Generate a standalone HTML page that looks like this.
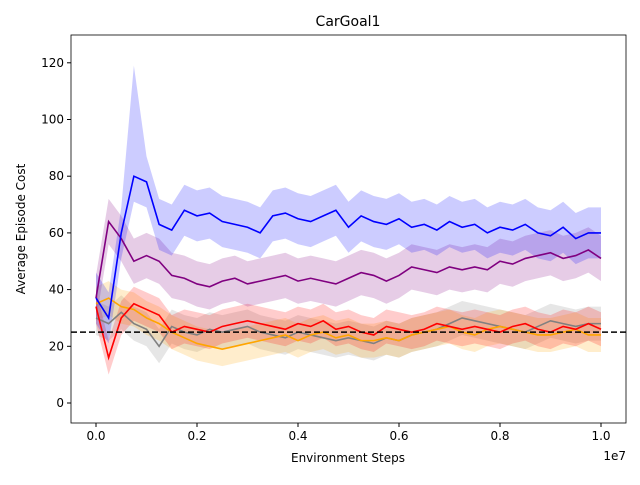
<!DOCTYPE html>
<html><head><meta charset="utf-8"><style>
body{margin:0;background:#fff;font-family:"Liberation Sans","DejaVu Sans",sans-serif}
svg text{font-family:"DejaVu Sans","Liberation Sans",sans-serif;font-size:12px;fill:#000}
</style></head><body>
<svg id="c" width="640" height="480"></svg>
<script>
const xs=[];for(let i=0;i<=40;i++)xs.push(i*0.025);
const blue=[37,30,60,80,78,63,61,68,66,67,64,63,62,60,66,67,65,64,66,68,62,66,64,63,65,62,63,61,64,62,63,60,62,61,63,60,59,62,58,60,60];
const purple=[37,64,58,50,52,50,45,44,42,41,43,44,42,43,44,45,43,44,43,42,44,46,45,43,45,48,47,46,48,47,48,47,50,49,51,52,53,51,52,54,51];
const red=[34,16,30,35,33,31,25,27,26,25,27,28,29,28,27,26,28,27,29,26,27,25,24,27,26,25,26,28,27,26,27,26,25,27,28,26,25,27,26,28,26];
const orange=[35,37,34,33,30,28,25,23,21,20,19,20,21,22,23,24,22,24,25,23,24,22,22,23,22,24,25,26,27,25,24,26,27,26,25,24,24,25,26,24,24];
const gray=[30,28,32,28,26,20,27,25,24,26,25,26,27,25,24,23,25,24,23,22,23,22,21,23,22,24,25,26,28,30,29,28,27,26,25,27,29,28,27,28,28];
const xTicks=[0,0.2,0.4,0.6,0.8,1.0];
const yTicks=[0,20,40,60,80,100,120];
const threshold=25;
const L=71,R=626,T=35,B=423;
const X=v=>96+v*505, Y=v=>403-v*2.835;
const s=document.getElementById('c');const NS='http://www.w3.org/2000/svg';
function mk(t,a,txt){const e=document.createElementNS(NS,t);for(const k in a)e.setAttribute(k,a[k]);if(txt!=null)e.textContent=txt;s.appendChild(e);return e;}
const series=[[gray,'#808080',6],[orange,'#ffa500',6],[red,'#ff0000',6],[purple,'#800080',8],[blue,'#0000ff',9]];
const names=['gray','orange','red','purple','blue'];
series.forEach((sr,k)=>{
 const [d,c,w]=sr;
 let up=d.map((v,i)=>X(xs[i])+','+Y(v+w+(i==3&&k==4?30:0)));
 let dn=d.map((v,i)=>X(xs[i])+','+Y(v-w)).reverse();
 const b=mk('polygon',{points:up.concat(dn).join(' '),fill:c,'fill-opacity':0.2,stroke:'none'});
 
 
});
series.forEach((sr,k)=>{
 const [d,c]=sr;
 const p=mk('polyline',{points:d.map((v,i)=>X(xs[i])+','+Y(v)).join(' '),fill:'none',stroke:c,'stroke-width':1.6});
 
 
});
const th=mk('line',{x1:L,x2:R,y1:Y(threshold),y2:Y(threshold),stroke:'#000','stroke-width':1.5,'stroke-dasharray':'6,3'});


const fr=mk('rect',{x:L,y:T,width:R-L,height:B-T,fill:'none',stroke:'#000','stroke-width':0.8});


xTicks.forEach(t=>{mk('line',{x1:X(t),x2:X(t),y1:B,y2:B+4,stroke:'#000'});
 const e=mk('text',{x:X(t),y:B+17,'text-anchor':'middle'},t.toFixed(1));
 
 });
yTicks.forEach(t=>{mk('line',{x1:L-4,x2:L,y1:Y(t),y2:Y(t),stroke:'#000'});
 const e=mk('text',{x:L-7,y:Y(t)+4,'text-anchor':'end'},t);
 
 });
</script>
<svg style="position:absolute;left:0;top:0" width="640" height="480">
<text x="348" y="26" text-anchor="middle" style="font-size:14px">CarGoal1</text>
<text x="348" y="462" text-anchor="middle">Environment Steps</text>
<text x="626" y="460" text-anchor="end">1e7</text>
<text transform="translate(25,229) rotate(-90)" text-anchor="middle">Average Episode Cost</text>
</svg>
</body></html>
